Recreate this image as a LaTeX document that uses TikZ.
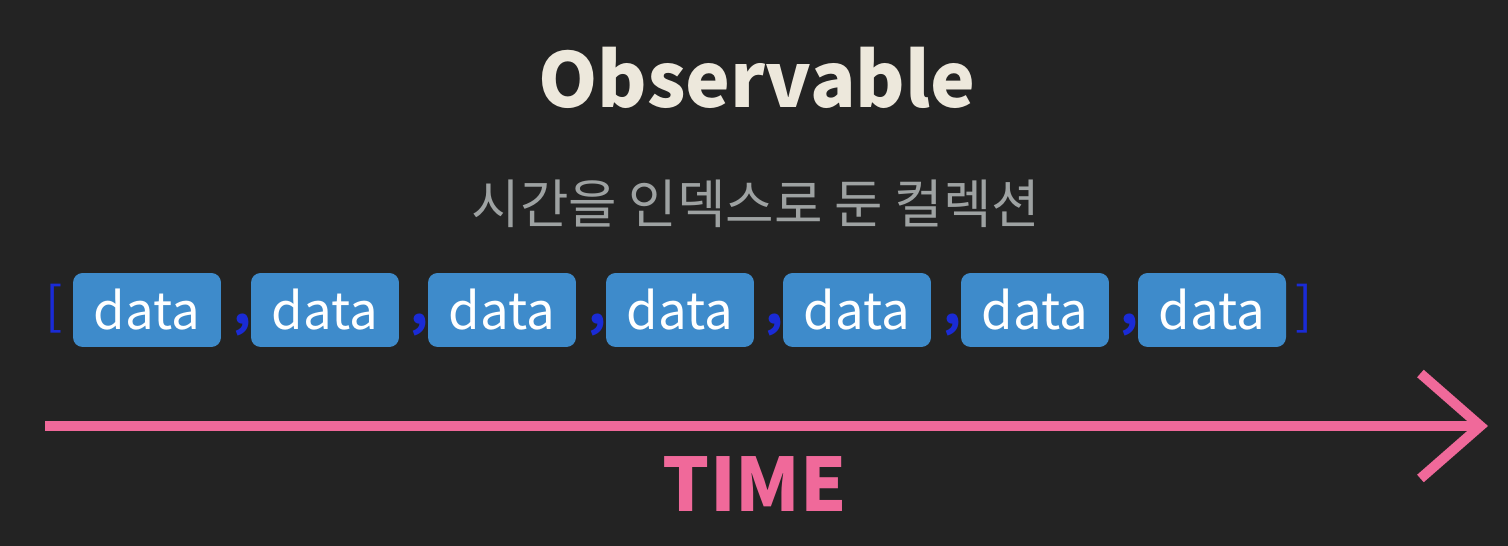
\documentclass[tikz,border=0pt]{standalone}
\usepackage{fontspec}
\setmainfont{Noto Sans CJK KR}
\usepackage{xcolor}
\usepackage{tikz}
\usetikzlibrary{arrows.meta}
\definecolor{bgdark}{HTML}{232323}
\definecolor{titlecream}{HTML}{EDE8DC}
\definecolor{subgrey}{HTML}{9EA2A2}
\definecolor{databox}{HTML}{3E8BCB}
\definecolor{brackblue}{HTML}{1A2BD6}
\definecolor{timepink}{HTML}{F0699A}
\tikzset{
  item/.style={fill=databox,rounded corners=5.5pt,minimum width=2.96cm,minimum height=1.48cm,
    text=white,font=\fontsize{29}{31}\selectfont,inner sep=0pt},
  brack/.style={anchor=base,text=brackblue,font=\fontsize{29}{31}\selectfont,inner sep=0pt},
  sep/.style={brack,font=\fontsize{29}{31}\selectfont\bfseries},
  timearr/.style={-{Straight Barb[length=1.2cm,width=2.1cm]},line width=0.2cm,draw=timepink},
}

\begin{document}
\begin{tikzpicture}[x=0.02cm,y=-0.02cm]
\fill[bgdark] (0,0) rectangle (1508,546);
\useasboundingbox (0,0) rectangle (1508,546);
\node[anchor=base,text=titlecream,font=\fontsize{43}{47}\selectfont\bfseries] (title) at (757,108) {Observable};
\node[anchor=base,text=subgrey,font=\fontsize{30}{32}\selectfont] (sub) at (756,224) {시간을 인덱스로 둔 컬렉션};
\node[brack] (lb) at (54,325) {[};
\node[item] (d1) at (147,310) {data};
\node[sep] (c1) at (242,325) {,};
\node[item] (d2) at (325,310) {data};
\node[sep] (c2) at (419,325) {,};
\node[item] (d3) at (502,310) {data};
\node[sep] (c3) at (597,325) {,};
\node[item] (d4) at (680,310) {data};
\node[sep] (c4) at (774,325) {,};
\node[item] (d5) at (857,310) {data};
\node[sep] (c5) at (952,325) {,};
\node[item] (d6) at (1035,310) {data};
\node[sep] (c6) at (1129,325) {,};
\node[item] (d7) at (1212,310) {data};
\node[brack] (rb) at (1304,325) {]};
\coordinate (t0) at (45,426);
\coordinate (t1) at (1488,426);
\draw[timearr] (t0) -- (t1);
\node[anchor=base,text=timepink,font=\fontsize{42}{46}\selectfont\bfseries] (time) at (755,512) {TIME};
\end{tikzpicture}
\end{document}
